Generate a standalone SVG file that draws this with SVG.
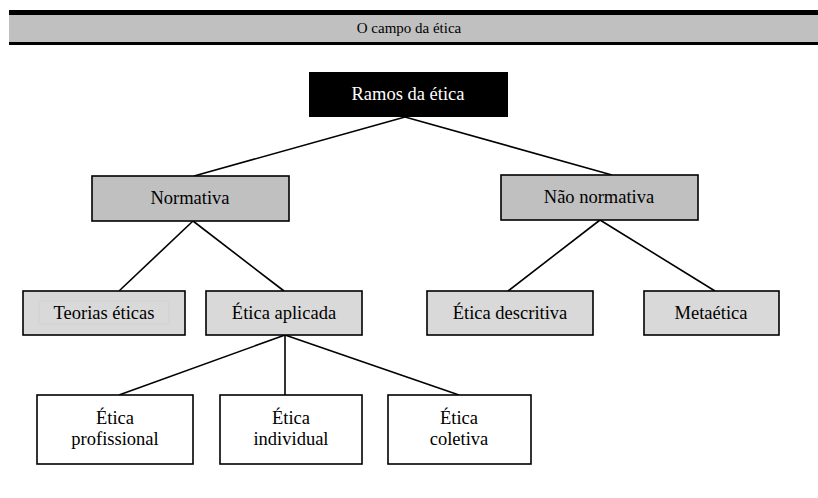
<svg xmlns="http://www.w3.org/2000/svg" width="818" height="498" viewBox="0 0 818 498">
<style>
text{font-family:'Liberation Serif','Times New Roman',serif;font-size:18.5px;fill:#000;text-anchor:middle}
.box{stroke:#000;stroke-width:1.6}
.dark{fill:#c0c0c0}
.light{fill:#d9d9d9}
.white{fill:#fff}
.conn line{stroke:#000;stroke-width:1.6}
</style>
<rect width="818" height="498" fill="#fff"/>
<g id="header">
<rect x="9" y="10" width="809" height="35" fill="#000"/>
<rect x="9" y="15" width="809" height="27" fill="#c0c0c0"/>
<text x="409" y="33" style="font-size:15px">O campo da ética</text>
</g>
<g class="conn" id="connectors">
<line x1="405" y1="117" x2="194" y2="176"/>
<line x1="405" y1="117" x2="612" y2="175"/>
<line x1="193" y1="221" x2="119" y2="291"/>
<line x1="193" y1="221" x2="284" y2="291"/>
<line x1="600" y1="220" x2="508" y2="291"/>
<line x1="600" y1="220" x2="715" y2="291"/>
<line x1="285" y1="335" x2="119" y2="395"/>
<line x1="285" y1="335" x2="285" y2="395"/>
<line x1="285" y1="335" x2="459" y2="395"/>
</g>
<g id="ramos">
<rect x="309" y="72" width="199" height="45" fill="#000"/>
<text x="408" y="100" style="fill:#fff">Ramos da ética</text>
</g>
<g id="normativa">
<rect class="box dark" x="92" y="176" width="197" height="45"/>
<text x="190" y="204">Normativa</text>
</g>
<g id="nao-normativa">
<rect class="box dark" x="501" y="175" width="197" height="45"/>
<text x="599" y="203">Não normativa</text>
</g>
<g id="teorias">
<rect class="box light" x="23" y="291" width="162" height="44"/>
<rect x="39" y="301" width="130" height="23" fill="none" stroke="#cfcfcf" stroke-width="0.8"/>
<text x="104" y="319">Teorias éticas</text>
</g>
<g id="aplicada">
<rect class="box light" x="206" y="291" width="156" height="44"/>
<text x="284" y="319">Ética aplicada</text>
</g>
<g id="descritiva">
<rect class="box light" x="427" y="291" width="166" height="44"/>
<text x="510" y="319">Ética descritiva</text>
</g>
<g id="metaetica">
<rect class="box light" x="644" y="291" width="135" height="44"/>
<text x="711" y="319">Metaética</text>
</g>
<g id="profissional">
<rect class="box white" x="37" y="395" width="156" height="69"/>
<text x="115" y="424">Ética</text>
<text x="115" y="445">profissional</text>
</g>
<g id="individual">
<rect class="box white" x="220" y="395" width="142" height="69"/>
<text x="291" y="424">Ética</text>
<text x="291" y="445">individual</text>
</g>
<g id="coletiva">
<rect class="box white" x="388" y="395" width="143" height="69"/>
<text x="459" y="424">Ética</text>
<text x="459" y="445">coletiva</text>
</g>
</svg>
